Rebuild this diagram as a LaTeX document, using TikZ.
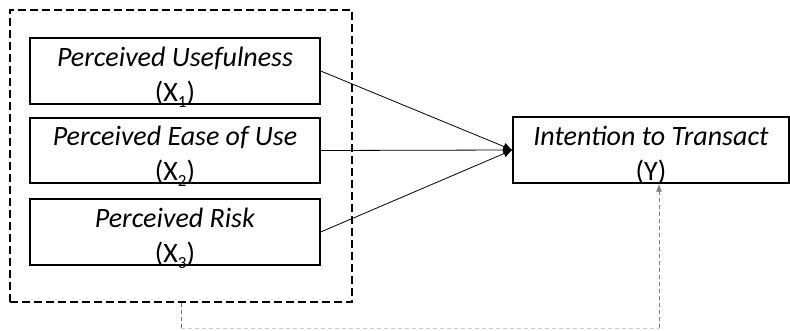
\documentclass[tikz,border=0pt]{standalone}
\usepackage{fontspec}
\setmainfont{Carlito}
\usetikzlibrary{arrows.meta}
\newcommand{\lowsub}[1]{\raisebox{-0.45ex}{\fontsize{17}{17}\selectfont #1}}
\begin{document}
\begin{tikzpicture}[x=1pt,y=-1pt,
  varbox/.style={draw=black, line width=1.4pt, rectangle, inner sep=0pt},
  label text/.style={align=center, inner sep=0pt, font=\fontsize{28}{35}\selectfont},
  group/.style={draw=black, line width=1.2pt, dash pattern=on 8pt off 4pt},
  path/.style={draw=black, line width=0.8pt, -{Latex[length=9pt,width=8pt]}},
  link/.style={line width=0.8pt, dash pattern=on 4pt off 3pt}
]
\useasboundingbox (0,0) rectangle (790,330);

% grouping frame around the three predictors
\node[group, rectangle, minimum width=342pt, minimum height=292pt, inner sep=0pt]
  (frame) at (181,156) {};

% predictor boxes
\node[varbox, minimum width=290pt, minimum height=66pt] (x1) at (175,71) {};
\node[varbox, minimum width=290pt, minimum height=65pt] (x2) at (175,150.5) {};
\node[varbox, minimum width=290pt, minimum height=66pt] (x3) at (175,232) {};
\node[label text] (x1t) at ([yshift=-6pt]x1.center)
  {\textit{Perceived Usefulness}\\(X\lowsub{1})};
\node[label text] (x2t) at ([yshift=-6pt]x2.center)
  {\textit{Perceived Ease of Use}\\(X\lowsub{2})};
\node[label text] (x3t) at ([yshift=-6pt]x3.center)
  {\textit{Perceived Risk}\\(X\lowsub{3})};

% outcome box
\node[varbox, minimum width=276pt, minimum height=66pt] (y) at (651,150) {};
\node[label text] (yt) at ([yshift=-5pt]y.center)
  {\textit{Intention to Transact}\\(Y)};

% direct effects
\coordinate (tip) at (y.west);
\draw[path] (x1.east) -- (tip);
\draw[path] (x2.east) -- (tip);
\draw[path] (x3.east) -- (tip);

% joint effect of the group
\coordinate (c1) at (181,328);
\coordinate (c2) at (659,328);
\draw[link, draw=black!55] (frame.south) -- (c1);
\draw[link, draw=black!20] (c1) -- (c2);
\draw[link, draw=black!50, -{Latex[length=8pt,width=6pt]}] (c2) -- (y.south -| c2);
\end{tikzpicture}
\end{document}
